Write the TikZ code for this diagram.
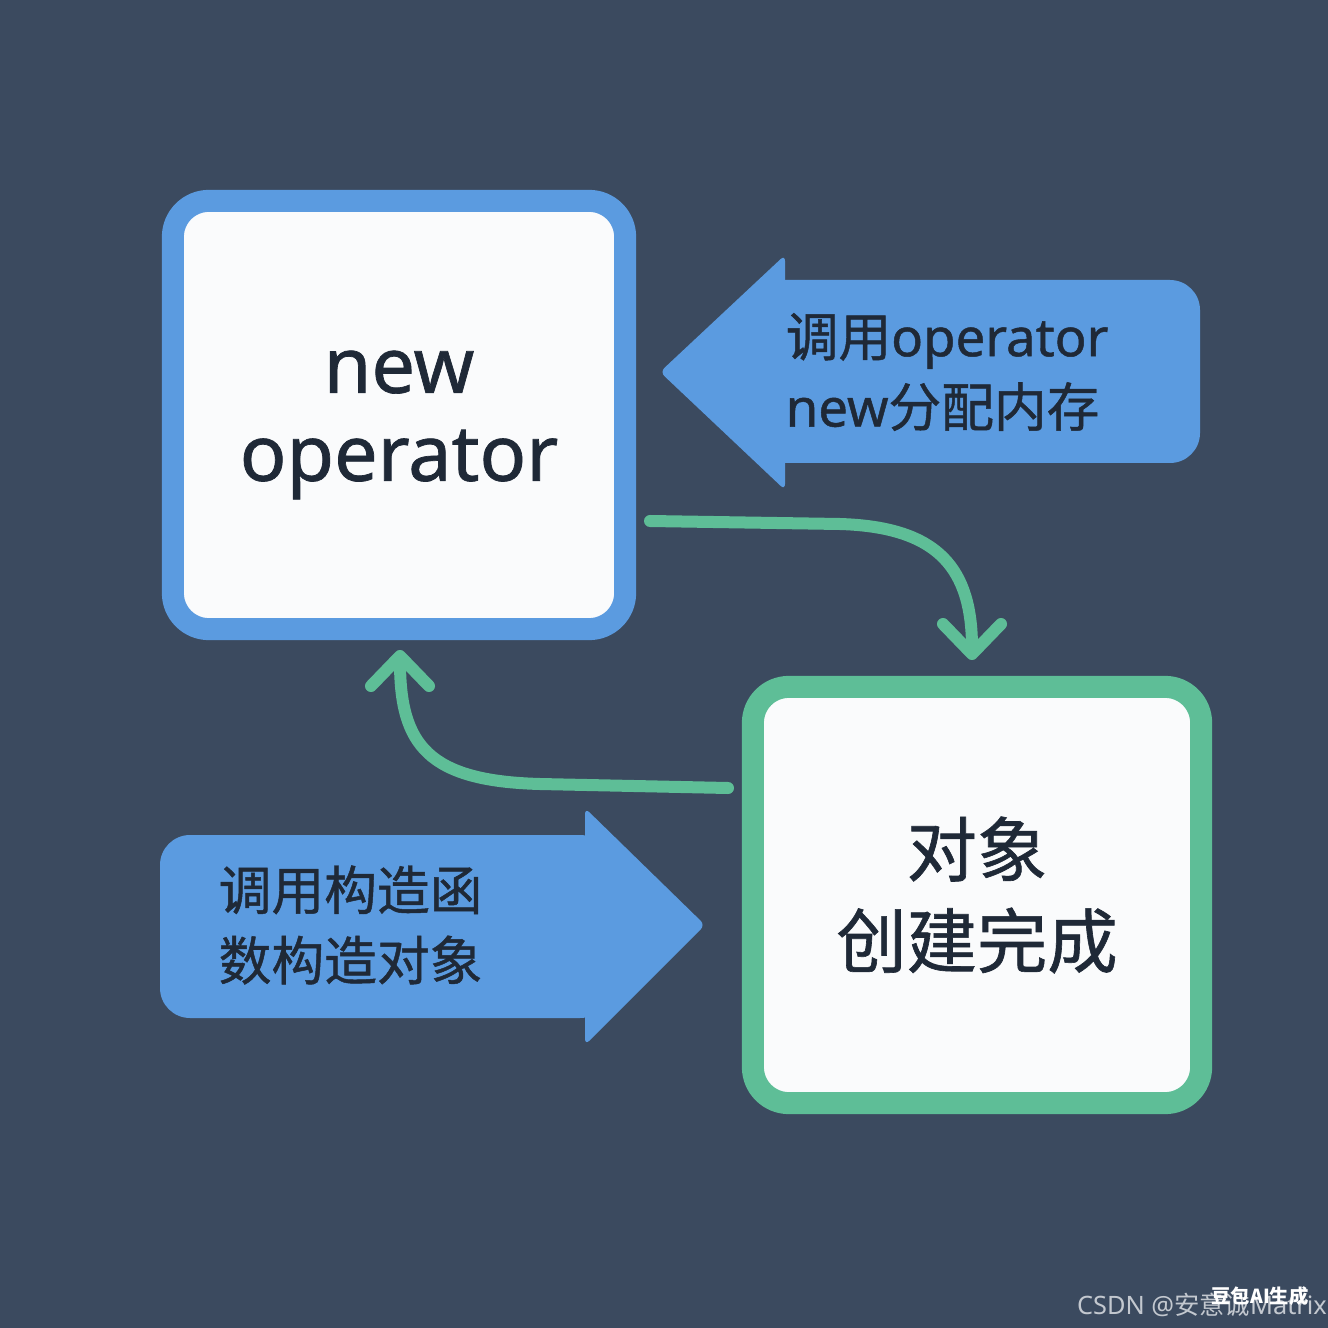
\documentclass[tikz,border=0pt]{standalone}
\usepackage{fontspec}
\setmainfont{Noto Sans}[FakeBold=0.9]
\newfontfamily\cjk{Noto Sans CJK SC}[FakeBold=0.9]
\newfontfamily\markfont{Noto Sans}
\newfontfamily\markcjk{Noto Sans CJK SC}
\usetikzlibrary{arrows.meta}

\definecolor{bgslate}{HTML}{3B4A5F}
\definecolor{boxblue}{HTML}{5B9BE0}
\definecolor{boxgreen}{HTML}{5EBE97}
\definecolor{inkdark}{HTML}{1F2937}
\definecolor{paper}{HTML}{FAFBFC}
\definecolor{markgray}{HTML}{C3C8CF}

\tikzset{
  box/.style={draw=#1, line width=0.22cm, fill=paper, rounded corners=0.36cm, text=inkdark, align=center},
  flow/.style={draw=boxgreen, line width=0.12cm, line cap=round, -{Straight Barb[length=0.3cm, width=0.58cm, round]}},
  tag/.style={anchor=west, text=inkdark, align=left, inner sep=0pt, font=\fontsize{15}{20}\selectfont}
}

\begin{document}
\begin{tikzpicture}[x=0.01cm, y=-0.01cm]
    \fill[bgslate] (0,0) rectangle (1328,1328);
    \useasboundingbox (0,0) rectangle (1328,1328);

    % the two boxes
    \node (newop)[box=boxblue, minimum width=4.52cm, minimum height=4.28cm] at (399,415) {};
    \node (newoptext)[text=inkdark, align=center, font=\fontsize{22}{25}\selectfont] at (399,425) {new\\operator};
    \node (done)[box=boxgreen, minimum width=4.48cm, minimum height=4.16cm,
        font=\cjk\fontsize{20}{26}\selectfont] at (977,895) {对象\\创建完成};

    % blue block arrows
    \fill[boxblue, rounded corners=0.3cm] (750,280) rectangle (1200,463);
    \fill[boxblue, rounded corners=0.06cm] (660,372) -- (785,255) -- (785,490) -- cycle;
    \node (callnew)[tag] at (785,372) {{\cjk 调用}operator\\new{\cjk 分配内存}};

    \fill[boxblue, rounded corners=0.3cm] (160,835) rectangle (610,1018);
    \fill[boxblue, rounded corners=0.06cm] (705,925) -- (585,808) -- (585,1045) -- cycle;
    \node (callctor)[tag, font=\cjk\fontsize{15}{20}\selectfont] at (218,925) {调用构造函\\数构造对象};

    % green flows
    \coordinate (out1) at (650,521);
    \coordinate (in1) at (972,660);
    \coordinate (out2) at (728,788);
    \coordinate (in2) at (400,650);
    \draw[flow] (out1) -- (840,524) .. controls (940,527) and (972,570) .. (in1);
    \draw[flow] (out2) -- (540,784) .. controls (428,781) and (400,745) .. (in2);

    % watermark
    \node (mark)[text=markgray, font=\markfont\fontsize{7.2}{9}\selectfont] at (1202,1305) {CSDN @{\markcjk 安意诚}Matrix};
    \node (aimark)[text=white, font=\markcjk\bfseries\fontsize{5.5}{7}\selectfont] at (1260,1296) {豆包AI生成};
\end{tikzpicture}
\end{document}
